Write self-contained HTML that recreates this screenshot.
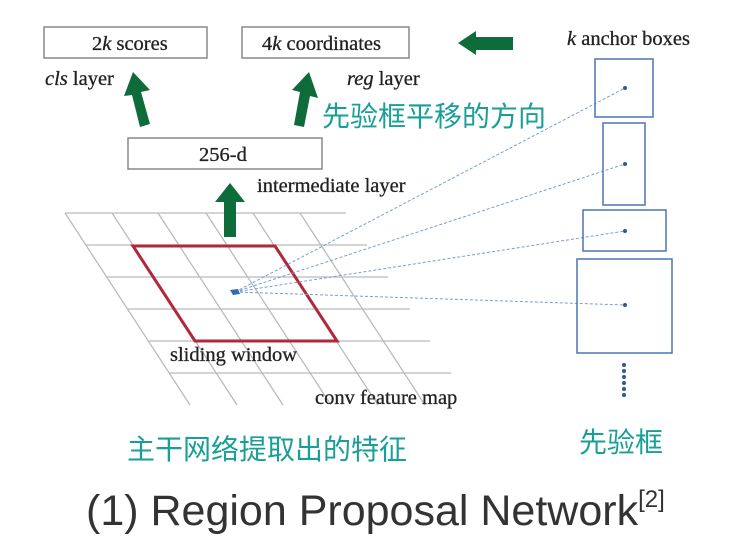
<!DOCTYPE html>
<html><head><meta charset="utf-8"><style>
html,body{margin:0;padding:0;background:#fff;width:730px;height:543px;overflow:hidden}
svg{display:block}
.s{font-family:"Liberation Serif",serif;fill:#222;stroke:#222;stroke-width:0.3}
.c{font-family:"Liberation Sans","Noto Sans CJK SC",sans-serif;fill:#1a9e98}
</style></head><body>
<svg width="730" height="543" viewBox="0 0 730 543">
<g stroke="#bbb" stroke-width="1.3" fill="none">
<line x1="65" y1="213" x2="346" y2="213"/>
<line x1="86" y1="245" x2="367" y2="245"/>
<line x1="107" y1="277" x2="388" y2="277"/>
<line x1="128" y1="309" x2="410" y2="309"/>
<line x1="149" y1="341" x2="430" y2="341"/>
<line x1="170" y1="373" x2="451" y2="373"/>
<line x1="65" y1="213" x2="190" y2="405"/>
<line x1="112" y1="213" x2="237" y2="405"/>
<line x1="158" y1="213" x2="283" y2="405"/>
<line x1="206" y1="213" x2="331" y2="405"/>
<line x1="253" y1="213" x2="378" y2="405"/>
<line x1="300" y1="213" x2="425" y2="405"/>
</g>
<polygon points="133,246 275,246 337,341 195,341" fill="none" stroke="#b0283a" stroke-width="3"/>
<g stroke="#7c9cd0" stroke-width="1" stroke-dasharray="3,2" fill="none">
<line x1="235" y1="292" x2="625" y2="88"/>
<line x1="235" y1="292" x2="625" y2="164"/>
<line x1="235" y1="292" x2="625" y2="231"/>
<line x1="235" y1="292" x2="625" y2="305"/>
</g>
<polygon points="230,290 238,289 240,294 233,295" fill="#2f6db0"/>
<g fill="none" stroke="#4a77b0" stroke-width="1.5">
<rect x="595" y="59" width="58" height="58"/>
<rect x="603" y="123" width="42" height="82"/>
<rect x="583" y="210" width="83" height="41"/>
<rect x="577" y="259" width="95" height="94"/>
</g>
<g fill="#2a5a95">
<circle cx="625" cy="88" r="2"/><circle cx="625" cy="164" r="2"/><circle cx="625" cy="231" r="2"/><circle cx="625" cy="305" r="2"/>
<circle cx="624" cy="365" r="2"/><circle cx="624" cy="371" r="2"/><circle cx="624" cy="377" r="2"/><circle cx="624" cy="383" r="2"/><circle cx="624" cy="389" r="2"/><circle cx="624" cy="395" r="2"/>
</g>
<g fill="#fff" stroke="#888" stroke-width="1.5">
<rect x="44" y="27" width="163" height="31"/>
<rect x="242" y="27" width="167" height="31"/>
<rect x="128" y="138" width="194" height="31"/>
</g>
<g fill="#0e6b3a">
<polygon points="140,127 150,124 141,92 150,90 133,72 124,96 132,95"/>
<polygon points="294,125 304,127 310,96 318,98 309,72 292,90 300,92"/>
<polygon points="224,237 236,237 236,202 245,202 230,183 215,202 224,202"/>
<polygon points="458,43 476,31 476,37 513,37 513,50 476,50 476,55"/>
</g>
<g class="s" font-size="20.5">
<text x="92" y="50">2<tspan font-style="italic">k</tspan> scores</text>
<text x="262" y="50">4<tspan font-style="italic">k</tspan> coordinates</text>
<text x="199" y="161">256-d</text>
<text x="45" y="85"><tspan font-style="italic">cls</tspan> layer</text>
<text x="347" y="85"><tspan font-style="italic">reg</tspan> layer</text>
<text x="567" y="45"><tspan font-style="italic">k</tspan> anchor boxes</text>
<text x="257" y="192">intermediate layer</text>
<text x="170" y="361">sliding window</text>
<text x="315" y="404">conv feature map</text>
</g>
<text class="c" x="322" y="126" font-size="28">先验框平移的方向</text>
<text class="c" x="127" y="459" font-size="28">主干网络提取出的特征</text>
<text class="c" x="579" y="452" font-size="28">先验框</text>
<text x="86" y="525" font-family="'Liberation Sans',sans-serif" font-size="43" fill="#333">(1)  Region Proposal Network<tspan font-size="24" dy="-18">[2]</tspan></text>
</svg>
</body></html>
